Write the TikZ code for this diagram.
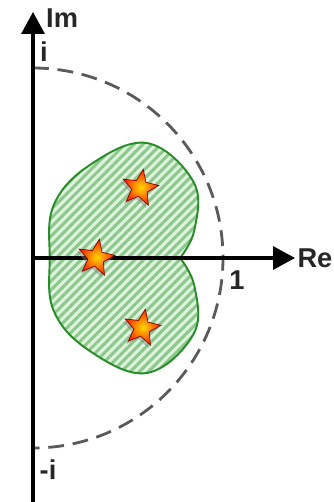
\documentclass[tikz,border=0pt]{standalone}
\usepackage{fontspec}
\setmainfont{Liberation Sans}
\usetikzlibrary{arrows.meta}
\usetikzlibrary{patterns.meta}
\usetikzlibrary{shapes.geometric}
\usetikzlibrary{shadows}

\definecolor{hatch}{RGB}{140,200,140}
\definecolor{hatchbg}{RGB}{222,242,222}
\definecolor{rim}{RGB}{40,140,40}
\definecolor{dashgray}{RGB}{90,90,90}

\begin{document}
\begin{tikzpicture}[x=3.8cm,y=3.8cm,
  axis/.style={line width=1.8pt,-{Triangle[length=0.44cm,width=0.46cm]}},
  lbl/.style={font=\fontsize{15.5}{17}\selectfont\bfseries,text=black!85,inner sep=0pt},
  starnode/.style={star,star points=5,star point ratio=2.3,minimum size=0.76cm,inner sep=0pt,
    draw=red!55!black,line width=0.4pt,shading=radial,inner color=yellow!70!orange,outer color=red!75!orange,
    drop shadow={shadow xshift=-1.2pt,shadow yshift=-1.6pt,opacity=0.45}}]
\useasboundingbox (-0.1737,-1.2842) rectangle (1.5789,1.3579);

\coordinate (O) at (0,0);
\coordinate (xend) at (1.379,0);
\coordinate (ybot) at (0,-1.32);
\coordinate (ytop) at (0,1.295);

%region
\draw[rim,line width=1.1pt,preaction={fill=hatchbg},
  pattern={Lines[angle=45,distance=3.6pt,line width=1.7pt]},pattern color=hatch]
  plot[smooth,tension=0.65] coordinates {(0.774,0) (0.85,0.15) (0.845,0.40) (0.6,0.605) (0.3,0.49) (0.11,0.28) (0.088,0)
  (0.11,-0.28) (0.3,-0.49) (0.6,-0.605) (0.845,-0.40) (0.85,-0.15) (0.774,0)} -- cycle;

%unit circle
\draw[dashgray,line width=1.6pt,dash pattern=on 9pt off 5pt] (0,1) arc[start angle=90,end angle=-90,radius=1];

%axes
\draw[axis] (O) -- (xend);
\draw[axis] (ybot) -- (ytop);

%stars
\node[starnode,rotate=-10] (s1) at (0.563,0.368) {};
\node[starnode,rotate=-10] (s2) at (0.332,0) {};
\node[starnode,rotate=-10] (s3) at (0.574,-0.368) {};

%labels
\node[lbl] (im) at (0.153,1.263) {Im};
\node[lbl] (re) at (1.484,0) {Re};
\node[lbl] (one) at (1.074,-0.116) {1};
\node[lbl] (i) at (0.058,1.084) {i};
\node[lbl] (mi) at (0.079,-1.116) {-i};

\end{tikzpicture}
\end{document}
